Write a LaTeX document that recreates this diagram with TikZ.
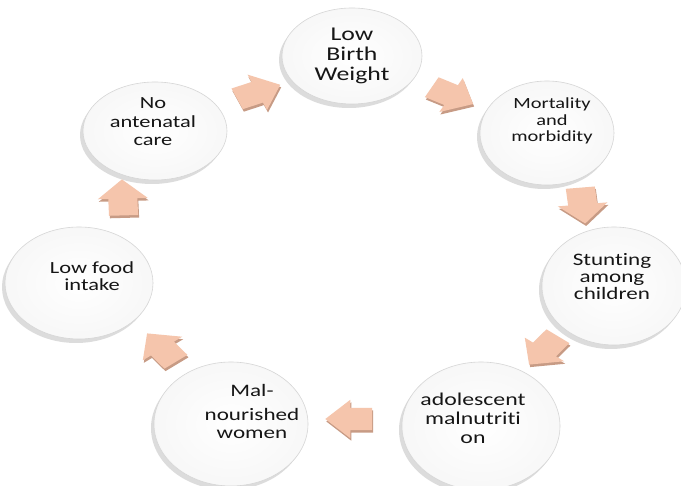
\documentclass[tikz,border=0pt]{standalone}
\usepackage{fontspec}
\setmainfont{Carlito}[FakeStretch=1.32, Ligatures=NoCommon, Contextuals=NoAlternate]
\usetikzlibrary{shapes.geometric,shapes.arrows,shadows}
\definecolor{peach}{RGB}{245,197,172}
\definecolor{peachdark}{RGB}{190,138,112}
\definecolor{rim}{RGB}{214,214,214}
\definecolor{ink}{RGB}{22,22,22}
\begin{document}
\begin{tikzpicture}[x=1pt,y=-1pt,
  bubble/.style={ellipse, inner sep=0pt, draw=rim, line width=0.6pt,
    inner color=white, outer color=gray!6,
    drop shadow={shadow xshift=-3pt, shadow yshift=-4pt, fill=gray!45, opacity=0.6}},
  label/.style={align=center, text=ink, inner sep=0pt},
  blockarrow/.style={single arrow, draw=none, fill=peach, inner xsep=0pt, inner ysep=11pt,
    single arrow head extend=8pt, single arrow tip angle=90, minimum height=36pt,
    transform shape,
    drop shadow={shadow xshift=1pt, shadow yshift=-2.5pt, fill=peachdark, opacity=0.85}}
]
\useasboundingbox (0,0) rectangle (681,486);
\fill[white] (0,0) rectangle (681,486);

% discs
\node[bubble, minimum width=140pt, minimum height=96pt]  (lbw)  at (352,56)  {};
\node[bubble, minimum width=134pt, minimum height=104pt] (mort) at (547,133) {};
\node[bubble, minimum width=144pt, minimum height=118pt] (stun) at (614,286) {};
\node[bubble, minimum width=158pt, minimum height=128pt] (adol) at (481,426) {};
\node[bubble, minimum width=154pt, minimum height=124pt] (mal)  at (231,424) {};
\node[bubble, minimum width=148pt, minimum height=112pt] (food) at (79,283)  {};
\node[bubble, minimum width=144pt, minimum height=98pt]  (ante) at (155,131) {};

% texts
\node[label, font=\fontsize{19.5}{20}\selectfont] (tlbw) at (352,56) {Low\\Birth\\Weight};
\node[label, font=\fontsize{15.5}{16.5}\selectfont] (tmort) at (552,121) {Mortality\\and\\morbidity};
\node[label, font=\fontsize{17.5}{17}\selectfont] (tstun) at (612,277) {Stunting\\among\\children};
\node[label, font=\fontsize{18}{19}\selectfont] (tadol) at (473,418) {adolescent\\malnutriti\\on};
\node[label, font=\fontsize{17.5}{18}\selectfont] (tmal) at (252,411) {Mal-\\[6pt]nourished\\women};
\node[label, font=\fontsize{17}{17.5}\selectfont] (tfood) at (92,276) {Low food\\intake};
\node[label, font=\fontsize{17}{18.5}\selectfont] (tante) at (153,122) {No\\antenatal\\care};

% block arrows
\begin{scope}[shift={(252,94)}, xscale=1.3]
  \node[blockarrow, rotate=23] (a1) at (0,0) {};
\end{scope}
\begin{scope}[shift={(446,93)}, xscale=1.3]
  \node[blockarrow, rotate=-28] (a2) at (0,0) {};
\end{scope}
\begin{scope}[shift={(582,200)}, xscale=1.3]
  \node[blockarrow, rotate=-84] (a3) at (0,0) {};
\end{scope}
\begin{scope}[shift={(548,346)}, xscale=1.3]
  \node[blockarrow, rotate=-128] (a4) at (0,0) {};
\end{scope}
\begin{scope}[shift={(356,419)}, xscale=1.3]
  \node[blockarrow, rotate=180] (a5) at (0,0) {};
\end{scope}
\begin{scope}[shift={(166,352)}, xscale=1.3]
  \node[blockarrow, rotate=128] (a6) at (0,0) {};
\end{scope}
\begin{scope}[shift={(123,203)}, xscale=1.3]
  \node[blockarrow, rotate=92] (a7) at (0,0) {};
\end{scope}
\end{tikzpicture}
\end{document}
